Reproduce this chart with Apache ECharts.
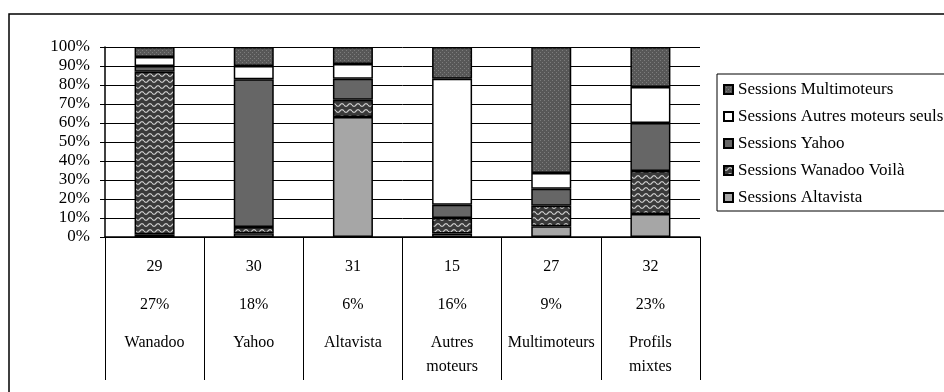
<!DOCTYPE html>
<html>
<head>
<meta charset="utf-8">
<script src="https://cdn.jsdelivr.net/npm/echarts@6/dist/echarts.min.js"></script>
<style>
  html, body { margin: 0; padding: 0; background: #fff; }
  #chart { width: 944px; height: 392px; }
</style>
</head>
<body>
<div id="chart"></div>
<script>
// categories and table rows under the bars
var categories = ['Wanadoo', 'Yahoo', 'Altavista', 'Autres\nmoteurs', 'Multimoteurs', 'Profils\nmixtes'];
var counts = [29, 30, 31, 15, 27, 32];
var shares = ['27%', '18%', '6%', '16%', '9%', '23%'];

// stacked shares (%), bottom to top
var altavista   = [1.5, 2.0, 63.2, 1.8, 5.6, 12.1];
var voila       = [85.5, 3.3, 9.1, 8.2, 10.9, 22.6];
var yahoo       = [3.0, 77.7, 11.0, 7.0, 8.9, 25.3];
var autres      = [4.7, 7.0, 7.8, 66.3, 8.3, 19.0];
var multi       = [5.3, 10.0, 8.9, 16.7, 66.3, 21.0];

var yTicks = [0, 10, 20, 30, 40, 50, 60, 70, 80, 90, 100];

var font = '"Liberation Serif", "Times New Roman", serif';

// fill patterns
function makeTile(w, h, draw) {
    var c = document.createElement('canvas');
    c.width = w; c.height = h;
    draw(c.getContext('2d'));
    return c;
}
var wavy = makeTile(8, 6, function (ctx) {
    ctx.fillStyle = '#3a3a3a';
    ctx.fillRect(0, 0, 8, 6);
    ctx.strokeStyle = '#c8c8c8';
    ctx.lineWidth = 1.2;
    ctx.beginPath();
    for (var x = 0; x <= 8; x += 0.5) {
        var y = 3 + 1.4 * Math.sin(2 * Math.PI * x / 8);
        if (x === 0) ctx.moveTo(x, y); else ctx.lineTo(x, y);
    }
    ctx.stroke();
});
var dotted = makeTile(4, 4, function (ctx) {
    ctx.fillStyle = '#575757';
    ctx.fillRect(0, 0, 4, 4);
    ctx.fillStyle = '#7c7c7c';
    ctx.fillRect(0, 0, 1, 1);
    ctx.fillRect(2, 2, 1, 1);
});

function serie(name, data, color) {
    return {
        name: name,
        type: 'bar',
        stack: 'total',
        barWidth: 40,
        data: data,
        itemStyle: { color: color, borderColor: '#000', borderWidth: 1.5 }
    };
}

var chart = echarts.init(document.getElementById('chart'));

chart.setOption({
    animation: false,
    backgroundColor: '#fff',
    textStyle: { fontFamily: font, color: '#000' },
    graphic: [{
        type: 'rect',
        shape: { x: 9, y: 14, width: 1000, height: 1000 },
        style: { fill: 'none', stroke: '#000', lineWidth: 1.5 },
        silent: true
    }],
    grid: { left: 105, right: 244, top: 47, bottom: 155 },
    legend: {
        orient: 'vertical',
        left: 717,
        top: 74,
        padding: [7, 8, 5, 6],
        icon: 'rect',
        itemWidth: 9,
        itemHeight: 9,
        itemGap: 10,
        borderColor: '#000',
        borderWidth: 1,
        backgroundColor: '#fff',
        textStyle: { fontFamily: font, fontSize: 17, color: '#000' },
        data: ['Sessions Multimoteurs', 'Sessions Autres moteurs seuls', 'Sessions Yahoo',
               'Sessions Wanadoo Voilà', 'Sessions Altavista']
    },
    xAxis: [{
        type: 'category',
        data: categories,
        axisLine: { lineStyle: { color: '#000', width: 1.5 } },
        axisTick: {
            show: true,
            interval: 0,
            alignWithLabel: false,
            inside: false,
            length: 143,
            lineStyle: { color: '#000', width: 1 }
        },
        axisLabel: {
            interval: 0,
            margin: 11,
            lineHeight: 38,
            fontFamily: font,
            fontSize: 16,
            color: '#000',
            formatter: function (v, i) { return counts[i] + '\n' + shares[i]; }
        }
    }, {
        type: 'category',
        data: categories,
        position: 'bottom',
        axisLine: { show: false },
        axisTick: { show: false },
        axisLabel: {
            interval: 0,
            margin: 94,
            lineHeight: 24,
            fontFamily: font,
            fontSize: 16,
            color: '#000'
        }
    }],
    yAxis: {
        type: 'value',
        min: yTicks[0],
        max: yTicks[yTicks.length - 1],
        interval: 10,
        axisLine: { show: true, lineStyle: { color: '#000', width: 1.5 } },
        axisTick: { show: true, length: 5, lineStyle: { color: '#000' } },
        splitLine: { lineStyle: { color: '#000', width: 1 } },
        axisLabel: {
            margin: 15,
            fontFamily: font,
            fontSize: 17,
            color: '#000',
            formatter: '{value}%'
        }
    },
    series: [
        serie('Sessions Altavista', altavista, '#a6a6a6'),
        serie('Sessions Wanadoo Voilà', voila, { image: wavy, repeat: 'repeat' }),
        serie('Sessions Yahoo', yahoo, '#666666'),
        serie('Sessions Autres moteurs seuls', autres, '#ffffff'),
        serie('Sessions Multimoteurs', multi, { image: dotted, repeat: 'repeat' })
    ]
});
</script>
</body>
</html>
